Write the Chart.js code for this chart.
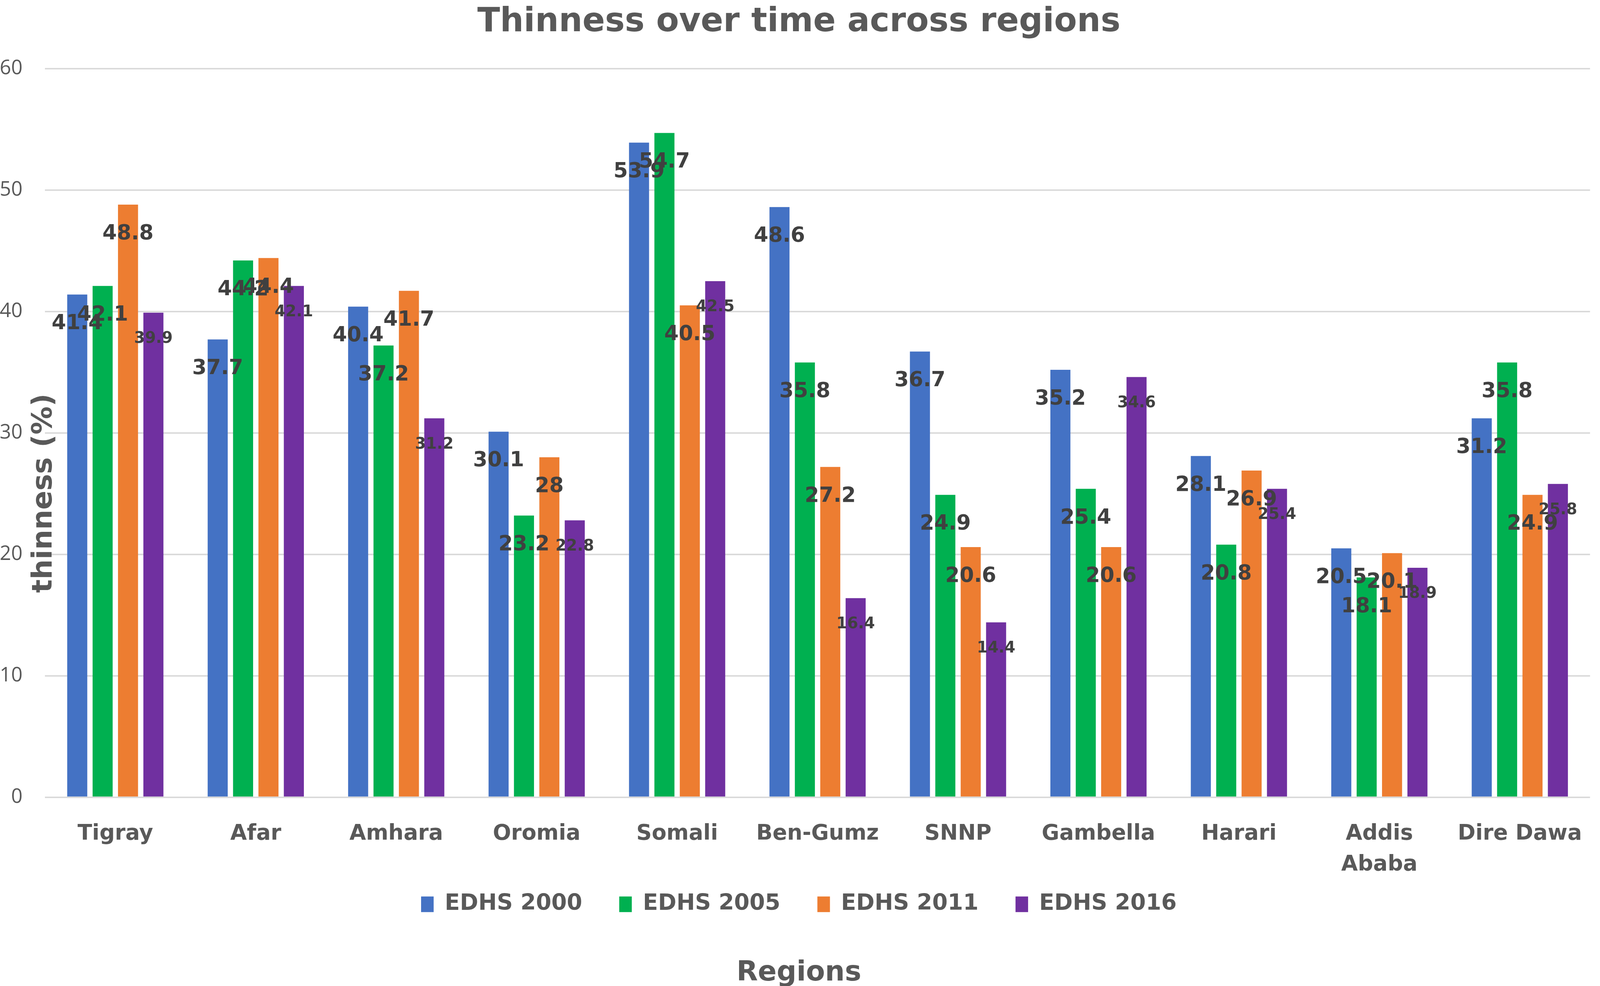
<!DOCTYPE html>
<html>
<head>
<meta charset="utf-8">
<title>Thinness over time across regions</title>
<script src="https://cdn.jsdelivr.net/npm/chart.js@4.4.0/dist/chart.umd.min.js"></script>
<style>
  html, body { margin: 0; padding: 0; background: #ffffff; overflow: hidden; }
  #wrap { position: relative; width: 100vw; height: 100vh; }
</style>
</head>
<body>
<div id="wrap"><canvas id="myChart"></canvas></div>
<script>
// regions on the x axis
var regions = ['Tigray', 'Afar', 'Amhara', 'Oromia', 'Somali', 'Ben-Gumz', 'SNNP',
  'Gambella', 'Harari', ['Addis', 'Ababa'], 'Dire Dawa'];

// thinness (%) per survey
var edhs2000 = [41.4, 37.7, 40.4, 30.1, 53.9, 48.6, 36.7, 35.2, 28.1, 20.5, 31.2];
var edhs2005 = [42.1, 44.2, 37.2, 23.2, 54.7, 35.8, 24.9, 25.4, 20.8, 18.1, 35.8];
var edhs2011 = [48.8, 44.4, 41.7, 28, 40.5, 27.2, 20.6, 20.6, 26.9, 20.1, 24.9];
var edhs2016 = [39.9, 42.1, 31.2, 22.8, 42.5, 16.4, 14.4, 34.6, 25.4, 18.9, 25.8];

var seriesNames = ['EDHS 2000', 'EDHS 2005', 'EDHS 2011', 'EDHS 2016'];
var yTicks = [0, 10, 20, 30, 40, 50, 60];

// the layout was measured on a 4328 x 2525 picture; scale to the real viewport
var sx = window.innerWidth / 4328;
var sy = window.innerHeight / 2525;
var sf = Math.min(sx, sy);

Chart.defaults.font.family = 'DejaVu Sans';

// value labels drawn just inside the top of each bar
var valueLabels = {
  id: 'valueLabels',
  afterDatasetsDraw: function (chart) {
    var ctx = chart.ctx;
    ctx.save();
    ctx.fillStyle = '#404040';
    ctx.textAlign = 'center';
    ctx.textBaseline = 'middle';
    chart.data.datasets.forEach(function (ds, i) {
      var small = i === 3;
      ctx.font = 'bold ' + Math.round((small ? 42 : 56) * sf) + 'px "DejaVu Sans"';
      chart.getDatasetMeta(i).data.forEach(function (bar, j) {
        ctx.fillText(String(ds.data[j]), bar.x, bar.y + (small ? 67 : 75) * sy);
      });
    });
    ctx.restore();
  }
};

// y axis title sits over the left edge of the plot
var yTitle = {
  id: 'yTitle',
  beforeDatasetsDraw: function (chart) {
    var ctx = chart.ctx;
    ctx.save();
    ctx.translate(120 * sx, 1263 * sy);
    ctx.rotate(-Math.PI / 2);
    ctx.fillStyle = '#595959';
    ctx.font = 'bold ' + Math.round(76 * sf) + 'px "DejaVu Sans"';
    ctx.textAlign = 'center';
    ctx.textBaseline = 'middle';
    ctx.fillText('thinness (%)', 0, 0);
    ctx.restore();
  }
};

var colors = ['#4472C4', '#00B050', '#ED7D31', '#7030A0'];
var series = [edhs2000, edhs2005, edhs2011, edhs2016];

var ctx = document.getElementById('myChart');
var myBarChart = new Chart(ctx, {
  type: 'bar',
  data: {
    labels: regions,
    datasets: series.map(function (vals, i) {
      return {
        label: seriesNames[i],
        data: vals,
        backgroundColor: colors[i],
        borderWidth: 0,
        categoryPercentage: 0.723,
        barPercentage: 0.79
      };
    })
  },
  options: {
    responsive: true,
    maintainAspectRatio: false,
    animation: false,
    layout: { padding: { left: 0, right: 6 * sx, top: 0, bottom: 0 } },
    plugins: {
      title: {
        display: true,
        text: 'Thinness over time across regions',
        color: '#595959',
        font: { size: 90 * sf, weight: 'bold', lineHeight: 0.9 },
        padding: { top: 20 * sy, bottom: 79 * sy }
      },
      subtitle: {
        display: true,
        position: 'bottom',
        text: 'Regions',
        color: '#595959',
        font: { size: 75 * sf, weight: 'bold', lineHeight: 0.9 },
        padding: { top: 107 * sy, bottom: 0 }
      },
      legend: {
        position: 'bottom',
        labels: {
          color: '#595959',
          boxWidth: 34 * sx,
          boxHeight: 40 * sy,
          padding: 100 * sf,
          font: { size: 60 * sf, weight: 'bold' }
        }
      },
      tooltip: { enabled: false }
    },
    scales: {
      x: {
        grid: { display: false },
        border: { display: false },
        ticks: {
          color: '#595959',
          font: { size: 58 * sf, weight: 'bold', lineHeight: 1.45 },
          padding: 46 * sy,
          maxRotation: 0,
          autoSkip: false
        },
        afterFit: function (scale) {
          scale.height = 151 * sy;
          // the second line of "Addis Ababa" runs below the axis box; do not clip it
          scale._computeLabelArea = function () { return undefined; };
        }
      },
      y: {
        min: 0,
        max: 60,
        grid: { color: '#d9d9d9', lineWidth: 4 * sf, drawTicks: false },
        border: { display: false },
        afterBuildTicks: function (scale) {
          scale.ticks = yTicks.map(function (v) { return { value: v }; });
        },
        ticks: {
          color: '#595959',
          font: { family: 'Open Sans', size: 54 * sf },
          padding: 61 * sx
        },
        afterFit: function (scale) { scale.width = 122 * sx; }
      }
    }
  },
  plugins: [valueLabels, yTitle]
});
</script>
</body>
</html>
